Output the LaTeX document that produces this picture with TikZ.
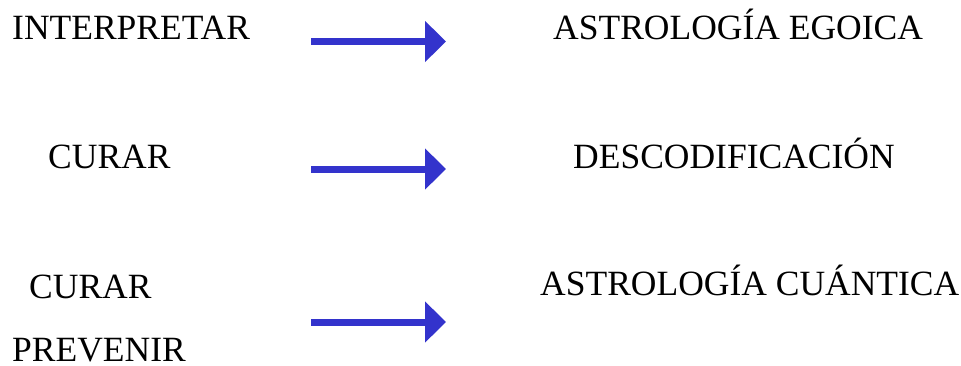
\documentclass[tikz,border=0pt]{standalone}
\usepackage{fontspec}
\setmainfont{Liberation Serif}
\usetikzlibrary{arrows.meta}
\definecolor{arrowblue}{RGB}{51,51,204}
\tikzset{
  lbl/.style={inner sep=0pt, anchor=base west, text depth=0pt, font=\fontsize{35.5}{40}\selectfont},
  bigarrow/.style={draw=arrowblue, line width=7pt, -{Triangle[length=21pt,width=40pt,fill=arrowblue]}}
}
\begin{document}
\begin{tikzpicture}[x=1pt,y=-1pt]
\useasboundingbox (0,0) rectangle (961,365);
\node[lbl] (l1) at (12,39.5) {INTERPRETAR};
\node[lbl] (r1) at (553,39.5) {ASTROLOGÍA EGOICA};
\node[lbl] (l2) at (48,168.5) {CURAR};
\node[lbl] (r2) at (573,168.5) {DESCODIFICACIÓN};
\node[lbl] (l3) at (29,298) {CURAR};
\node[lbl] (l4) at (12,361.5) {PREVENIR};
\node[lbl] (r3) at (540,295.5) {ASTROLOGÍA CUÁNTICA};
\coordinate (a1) at (311,41.5);
\coordinate (b1) at (446,41.5);
\coordinate (a2) at (311,169);
\coordinate (b2) at (446,169);
\coordinate (a3) at (311,322);
\coordinate (b3) at (446,322);
\draw[bigarrow] (a1) -- (b1);
\draw[bigarrow] (a2) -- (b2);
\draw[bigarrow] (a3) -- (b3);
\end{tikzpicture}
\end{document}
